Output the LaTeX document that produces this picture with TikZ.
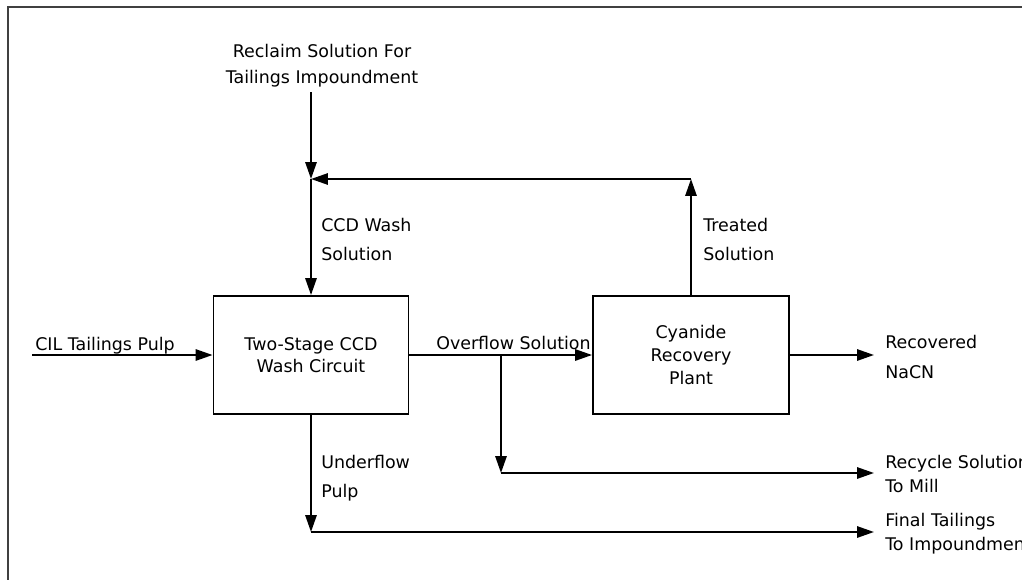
\documentclass[tikz,border=0pt]{standalone}
\usepackage{fontspec}
\setmainfont{DejaVu Sans}
\usetikzlibrary{arrows.meta,positioning}

\tikzset{
  unitbox/.style={draw, line width=1.3pt, minimum height=2.95cm, align=center, inner sep=0pt},
  pipe/.style={line width=1.4pt},
  feed/.style={pipe, -{Triangle[length=12pt,width=8pt]}},
  stream/.style={align=left, inner sep=0pt, anchor=base west},
  lead/.style={font=\fontsize{12.4}{#1}\selectfont}
}

\begin{document}
\begin{tikzpicture}[x=0.025cm, y=-0.025cm, lead=16pt]
\useasboundingbox (0,0) rectangle (1022,580);
\clip (0,0) rectangle (1022,580);
% frame
\draw[line width=1.4pt, black!75] (8,600) -- (8,7) -- (1040,7);

% process units
\node[unitbox, minimum width=4.875cm, lead=15.6pt] (wash) at (311,355) {Two-Stage CCD\\Wash Circuit};
\node[unitbox, minimum width=4.9cm, lead=16.4pt] (plant) at (691,355) {Cyanide\\Recovery\\Plant};

% stream labels (base = last line)
\node[stream, align=center, anchor=base, lead=17.8pt] (reclaim) at (322,83) {Reclaim Solution For\\Tailings Impoundment};
\node[stream] (cilpulp) at (35,350) {CIL Tailings Pulp};
\node[stream, lead=20pt] (washsol) at (321,260) {CCD Wash\\Solution};
\node[stream, lead=20pt] (treated) at (703,260) {Treated\\Solution};
\node[stream] (overflow) at (436,349) {Overflow Solution};
\node[stream, lead=21.3pt] (nacnlbl) at (885,378) {Recovered\\NaCN};
\node[stream, lead=20.6pt] (underlbl) at (321,497) {Underflow\\Pulp};
\node[stream, lead=16.4pt] (milllbl) at (885,492) {Recycle Solution\\To Mill};
\node[stream, lead=16.4pt] (tailslbl) at (885,550) {Final Tailings\\To Impoundment};

% junctions and free ends
\coordinate (cilin) at (32,355);
\coordinate (reclaimtop) at (311,92);
\coordinate (merge) at (311,179);
\coordinate (treattop) at (691,179);
\coordinate (split) at (501,355);
\coordinate (recycle) at (501,473);
\coordinate (underflow) at (311,532);
\coordinate (nacn) at (874,355);
\coordinate (mill) at (874,473);
\coordinate (tails) at (874,532);

% flows
\draw[feed] (cilin) -- (wash);
\draw[feed] (reclaimtop) -- (merge);
\draw[feed] (plant) -- (treattop);
\draw[feed] (treattop) -- (merge);
\draw[feed] (merge) -- (wash);
\draw[feed] (wash) -- (plant);
\draw[feed] (plant) -- (nacn);
\draw[feed] (split) -- (recycle);
\draw[feed] (recycle) -- (mill);
\draw[feed] (wash) -- (underflow);
\draw[feed] (underflow) -- (tails);
\end{tikzpicture}
\end{document}
